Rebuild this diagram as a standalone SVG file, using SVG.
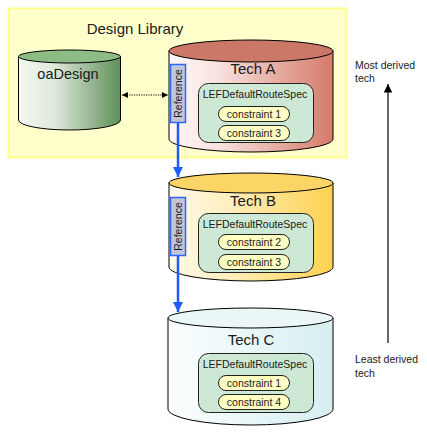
<svg xmlns="http://www.w3.org/2000/svg" width="427" height="437" viewBox="0 0 427 437">
<defs>
<linearGradient id="gGreen" x1="0" y1="0" x2="1" y2="0"><stop offset="0" stop-color="#f4f7f2"/><stop offset="0.35" stop-color="#dfe9dc"/><stop offset="1" stop-color="#5e8f58"/></linearGradient>
<linearGradient id="gRed" x1="0" y1="0" x2="1" y2="0"><stop offset="0" stop-color="#fff8f8"/><stop offset="0.3" stop-color="#f8e2de"/><stop offset="1" stop-color="#d57a69"/></linearGradient>
<linearGradient id="gYel" x1="0" y1="0" x2="1" y2="0"><stop offset="0" stop-color="#fffaea"/><stop offset="0.35" stop-color="#ffefc0"/><stop offset="1" stop-color="#fdd24e"/></linearGradient>
<linearGradient id="gCyan" x1="0" y1="0" x2="1" y2="0"><stop offset="0" stop-color="#fbfefe"/><stop offset="1" stop-color="#d6eef0"/></linearGradient>
<marker id="blueHead" viewBox="0 0 10 10" refX="10" refY="5" markerWidth="4" markerHeight="4.5" orient="auto" markerUnits="strokeWidth"><path d="M0,0 L10,5 L0,10 Z" fill="#1f5cff"/></marker>
<marker id="blackHead" viewBox="0 0 10 10" refX="10" refY="5" markerWidth="8" markerHeight="7" orient="auto" markerUnits="strokeWidth"><path d="M0,0 L10,5 L0,10 Z" fill="#000"/></marker>
<marker id="dotHead" viewBox="0 0 10 10" refX="10" refY="5" markerWidth="7" markerHeight="6" orient="auto-start-reverse" markerUnits="userSpaceOnUse"><path d="M0,0 L10,5 L0,10 Z" fill="#000"/></marker>
</defs>
<style>
text{font-family:"Liberation Sans",Arial,sans-serif;fill:#1a1a1a}
.cyl{stroke:#000;stroke-width:1}
.title{font-size:15px;text-anchor:middle}
.tech{font-size:15px;text-anchor:middle}
.spec{fill:#cde8d4;stroke:#222;stroke-width:1}
.spect{font-size:10.5px;text-anchor:middle}
.pill{fill:#ffffc4;stroke:#222;stroke-width:1}
.ct{font-size:10.5px;text-anchor:middle}
.ref{fill:#c2c5d6;stroke:#2f66ff;stroke-width:1.5}
.reft{font-size:10.5px;text-anchor:middle}
.note{font-size:10.5px}
</style>
<rect x="8.5" y="8.5" width="338" height="149" fill="#ffffcc" stroke="#ffff8a" stroke-width="2"/>
<text class="title" x="135" y="34">Design Library</text>

<g id="oaDesign">
<path class="cyl" d="M18.5,56.5 L18.5,120 A51,10 0 0 0 120.5,120 L120.5,56.5 Z" fill="url(#gGreen)"/>
<ellipse class="cyl" cx="69.5" cy="56.5" rx="51" ry="6.5" fill="#8dbd84"/>
<text class="tech" style="font-size:14.5px" x="68" y="79">oaDesign</text>
</g>

<g id="techA">
<path class="cyl" d="M169,51 L169,139 A82,13 0 0 0 333,139 L333,51 Z" fill="url(#gRed)"/>
<ellipse class="cyl" cx="251" cy="51" rx="82" ry="11" fill="#cc7868"/>
<text class="tech" x="253" y="74">Tech A</text>
<rect class="spec" x="198.5" y="83.5" width="115" height="59" rx="10"/>
<text class="spect" x="255" y="98">LEFDefaultRouteSpec</text>
<rect class="pill" x="218.5" y="106.5" width="71" height="15" rx="7.5"/>
<text class="ct" x="254" y="118">constraint 1</text>
<rect class="pill" x="218.5" y="125.5" width="71" height="15" rx="7.5"/>
<text class="ct" x="254" y="137">constraint 3</text>
<rect class="ref" x="170.5" y="64.5" width="15" height="58"/>
<text class="reft" transform="translate(182,93.5) rotate(-90)">Reference</text>
</g>

<g id="techB">
<path class="cyl" d="M169,183 L169,267 A82,14 0 0 0 333,267 L333,183 Z" fill="url(#gYel)"/>
<ellipse class="cyl" cx="251" cy="183" rx="82" ry="10" fill="#fbd565"/>
<text class="tech" x="253" y="206">Tech B</text>
<rect class="spec" x="198.5" y="213.5" width="115" height="59" rx="10"/>
<text class="spect" x="255" y="228">LEFDefaultRouteSpec</text>
<rect class="pill" x="218.5" y="234.5" width="71" height="15" rx="7.5"/>
<text class="ct" x="254" y="246">constraint 2</text>
<rect class="pill" x="218.5" y="254.5" width="71" height="15" rx="7.5"/>
<text class="ct" x="254" y="266">constraint 3</text>
<rect class="ref" x="170.5" y="197.5" width="15" height="58"/>
<text class="reft" transform="translate(182,226.5) rotate(-90)">Reference</text>
</g>

<g id="techC">
<path class="cyl" d="M168,318 L168,409 A82.5,16 0 0 0 333,409 L333,318 Z" fill="url(#gCyan)"/>
<ellipse class="cyl" cx="250.5" cy="318" rx="82.5" ry="10" fill="#eaf6f7"/>
<text class="tech" x="251" y="345">Tech C</text>
<rect class="spec" x="198.5" y="353.5" width="115" height="59" rx="10"/>
<text class="spect" x="255" y="368">LEFDefaultRouteSpec</text>
<rect class="pill" x="218.5" y="375.5" width="71" height="15" rx="7.5"/>
<text class="ct" x="254" y="387">constraint 1</text>
<rect class="pill" x="218.5" y="394.5" width="71" height="15" rx="7.5"/>
<text class="ct" x="254" y="406">constraint 4</text>
</g>

<g id="connectors">
<line x1="178" y1="123" x2="178" y2="177" stroke="#1f5cff" stroke-width="2.5" marker-end="url(#blueHead)"/>
<line x1="178" y1="256" x2="178" y2="312" stroke="#1f5cff" stroke-width="2.5" marker-end="url(#blueHead)"/>
<line x1="122" y1="95" x2="168" y2="95" stroke="#000" stroke-width="1.2" stroke-dasharray="1.2,1.2" marker-start="url(#dotHead)" marker-end="url(#dotHead)"/>
<line x1="388" y1="343" x2="388" y2="84" stroke="#000" stroke-width="1.2" marker-end="url(#blackHead)"/>
</g>

<text class="note" x="355" y="69">Most derived</text>
<text class="note" x="355" y="82">tech</text>
<text class="note" x="355" y="363">Least derived</text>
<text class="note" x="355" y="377">tech</text>
</svg>
